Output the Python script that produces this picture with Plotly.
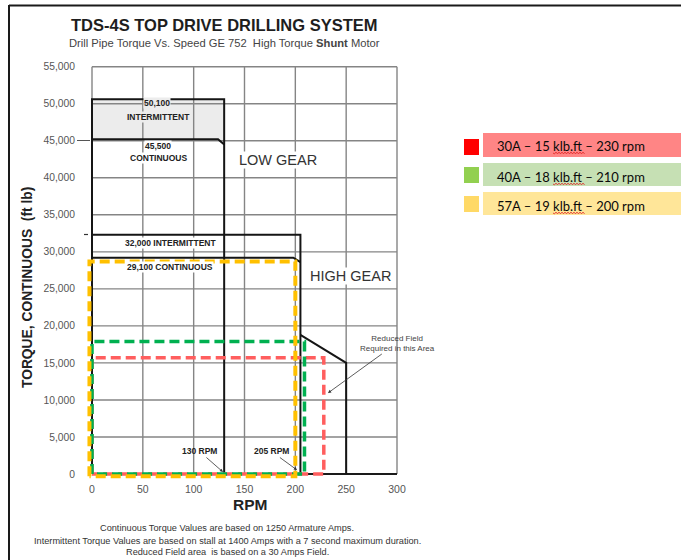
import plotly.graph_objects as go

# ---------------- data ----------------
rpm_ticks = [0, 50, 100, 150, 200, 250, 300]
torque_ticks = [0, 5000, 10000, 15000, 20000, 25000, 30000, 35000, 40000, 45000, 50000, 55000]
torque_ticktext = ["0", "5,000", "10,000", "15,000", "20,000", "25,000", "30,000",
                   "35,000", "40,000", "45,000", "50,000", "55,000"]

# low gear
low_int_rpm = [0, 0, 130, 130]
low_int_torque = [0, 50600, 50600, 0]
low_cont_rpm = [0, 124, 130]
low_cont_torque = [45200, 45200, 44500]
# high gear
high_int_rpm = [0, 205, 205]
high_int_torque = [32300, 32300, 0]
high_cont_rpm = [0, 198, 205]
high_cont_torque = [29200, 29200, 28600]
# reduced field
reduced_rpm = [205, 250, 250]
reduced_torque = [18800, 15000, 0]

# operating envelopes (dashed)
op_labels = ["30A \u2013 15 klb.ft \u2013 230 rpm",
             "40A \u2013 18 klb.ft \u2013 210 rpm",
             "57A \u2013 19 klb.ft \u2013 200 rpm"]
op_rpm_max = [228, 209, 200]
op_torque_max = [15700, 17900, 28700]
op_rpm_min = [0, 0, -2.5]
op_torque_min = [0, 0, -300]
op_line_colors = ["#FF5E5E", "#00B050", "#FFC000"]
op_square_colors = ["#FF0000", "#92D050", "#FFD966"]
op_box_colors = ["#FF8585", "#C6E0B4", "#FFE699"]

# ---------------- layout geometry (pixels) ----------------
FIG_W, FIG_H = 681, 560
L, R, T, B = 86, 400, 64, 480          # plot area edges
X0_PX, X300_PX = 92, 397               # where rpm 0 and 300 fall
Y0_PX, Y55_PX = 474, 66.7              # where torque 0 and 55000 fall
kx = (X300_PX - X0_PX) / 300.0
ky = (Y0_PX - Y55_PX) / 55000.0
x_min = -(X0_PX - L) / kx
x_max = x_min + (R - L) / kx
y_min = -(B - Y0_PX) / ky
y_max = y_min + (B - T) / ky


def px(x):
    return (x - L) / (R - L)


def py(y):
    return (B - y) / (B - T)


fig = go.Figure()

# shaded intermittent zone (low gear)
fig.add_trace(go.Scatter(
    x=[low_cont_rpm[0], low_cont_rpm[1], low_cont_rpm[2], low_int_rpm[2], low_int_rpm[1], low_cont_rpm[0]],
    y=[low_cont_torque[0], low_cont_torque[1], low_cont_torque[2], low_int_torque[2], low_int_torque[1], low_cont_torque[0]],
    fill="toself", fillcolor="#ECECEC", line=dict(width=0), mode="lines",
    hoverinfo="skip", showlegend=False))

# grid
gx, gy = [], []
for r in rpm_ticks:
    gx += [r, r, None]
    gy += [0, torque_ticks[-1], None]
for t in torque_ticks:
    gx += [0, rpm_ticks[-1], None]
    gy += [t, t, None]
fig.add_trace(go.Scatter(x=gx, y=gy, mode="lines", line=dict(color="#858585", width=1.4),
                         hoverinfo="skip", showlegend=False))

# bottom axis line
fig.add_trace(go.Scatter(x=[rpm_ticks[0], rpm_ticks[-1]], y=[0, 0], mode="lines",
                         line=dict(color="#1A1A1A", width=2), hoverinfo="skip", showlegend=False))

# black envelope curves
for xs, ys in [(low_int_rpm, low_int_torque), (low_cont_rpm, low_cont_torque),
               (high_int_rpm, high_int_torque), (high_cont_rpm, high_cont_torque),
               (reduced_rpm, reduced_torque)]:
    fig.add_trace(go.Scatter(x=xs, y=ys, mode="lines", line=dict(color="#151515", width=2),
                             hoverinfo="skip", showlegend=False))

# dashed operating rectangles
for i in range(3):
    x0, x1 = op_rpm_min[i], op_rpm_max[i]
    y0, y1 = op_torque_min[i], op_torque_max[i]
    fig.add_trace(go.Scatter(
        x=[x0, x0, x1, x1, x0], y=[y0, y1, y1, y0, y0], mode="lines",
        line=dict(color=op_line_colors[i], width=4 if i == 2 else 3.5, dash="10px,5px"),
        hoverinfo="skip", showlegend=False))

ann = []
shapes = []


def text(x, y, s, size, color="#222", bold=False, bg=None, family="Liberation Sans", xanchor="center"):
    d = dict(x=px(x), y=py(y), xref="paper", yref="paper", text=("<b>%s</b>" % s) if bold else s,
             showarrow=False, font=dict(size=size, color=color, family=family),
             xanchor=xanchor, yanchor="middle")
    if bg:
        d["bgcolor"] = bg
        d["borderpad"] = 0
    ann.append(d)


# titles
text(224, 25, "TDS-4S TOP DRIVE DRILLING SYSTEM", 16.5, "#1E1E1E", bold=True)
text(224, 43, "Drill Pipe Torque Vs. Speed GE 752  High Torque <b>Shunt</b> Motor", 11.2, "#444")
# axis titles
ann.append(dict(x=px(27), y=py(288), xref="paper", yref="paper", text="<b>TORQUE, CONTINUOUS  (ft lb)</b>",
                showarrow=False, textangle=-90, font=dict(size=13.8, color="#222", family="Liberation Sans"),
                xanchor="center", yanchor="middle"))
text(250, 505, "RPM", 15.5, "#222", bold=True)
# footnotes
text(227, 528, "Continuous Torque Values are based on 1250 Armature Amps.", 9.2, "#333")
text(227, 541, "Intermittent Torque Values are based on stall at 1400 Amps with a 7 second maximum duration.", 9.2, "#333")
text(227, 552, "Reduced Field area  is based on a 30 Amps Field.", 9.2, "#333")

# chart labels
text(157, 103, "50,100", 8.5, "#222", bold=True, bg="#ECECEC")
text(158, 117, "INTERMITTENT", 8.5, "#222", bold=True, bg="#ECECEC")
text(158, 146, "45,500", 8.5, "#222", bold=True, bg="white")
text(158, 158, "CONTINUOUS", 8.5, "#222", bold=True, bg="white")
text(170, 243, "32,000 INTERMITTENT", 8.5, "#222", bold=True, bg="white")
text(170, 267, "29,100 CONTINUOUS", 8.5, "#222", bold=True, bg="white")
text(278, 160, "LOW GEAR", 14.5, "#333", bg="white")
text(350, 276, "HIGH GEAR", 14.5, "#333", bg="white")

# arrow annotations
def arrow(hx, hy, tx, ty, s, size, bold=True, color="#222"):
    ann.append(dict(x=px(hx), y=py(hy), xref="paper", yref="paper", ax=tx - hx, ay=ty - hy,
                    text=("<b>%s</b>" % s) if bold else s, showarrow=True, arrowhead=2,
                    arrowsize=0.8, arrowwidth=0.8, arrowcolor="#333",
                    font=dict(size=size, color=color, family="Liberation Sans")))


arrow(223, 472, 199, 451, "130 RPM", 8.5)
arrow(297, 470, 271, 451, "205 RPM", 8.5)
arrow(328, 393, 397, 343, "Reduced Field<br>Required in this Area", 8, bold=False, color="#444")

# small tick marks on y axis
shapes.append(dict(type="line", xref="paper", yref="paper", x0=px(77), x1=px(90), y0=py(140.5), y1=py(140.5),
                   line=dict(color="#555", width=1)))
shapes.append(dict(type="line", xref="paper", yref="paper", x0=px(84), x1=px(88), y0=py(234.5), y1=py(234.5),
                   line=dict(color="#333", width=1.2)))

# page frame
shapes.append(dict(type="line", xref="paper", yref="paper", x0=px(9), x1=px(681), y0=py(5.5), y1=py(5.5),
                   line=dict(color="#1A1A1A", width=2)))
shapes.append(dict(type="line", xref="paper", yref="paper", x0=px(9), x1=px(9), y0=py(5), y1=py(560),
                   line=dict(color="#1A1A1A", width=2)))

# right-hand legend
row_box = [(133, 157), (163, 186), (192, 215)]
row_sq = [(139, 155), (167, 183), (196, 212)]
row_text_y = [146, 177, 206]
for i in range(3):
    shapes.append(dict(type="rect", xref="paper", yref="paper", x0=px(464), x1=px(479),
                       y0=py(row_sq[i][1]), y1=py(row_sq[i][0]), fillcolor=op_square_colors[i],
                       line=dict(width=0), layer="above"))
    shapes.append(dict(type="rect", xref="paper", yref="paper", x0=px(483), x1=px(681),
                       y0=py(row_box[i][1]), y1=py(row_box[i][0]), fillcolor=op_box_colors[i],
                       line=dict(width=0), layer="below"))
    text(495, row_text_y[i], op_labels[i], 13, "#0A0A0A", family="Lato", xanchor="left")
    # spell-check wavy underline under "klb.ft"
    wy = row_text_y[i] + 7
    xs = 553
    path = "M %f,%f" % (px(xs), py(wy))
    k = 0
    while xs < 584:
        xs += 1.5
        k += 1
        path += " L %f,%f" % (px(xs), py(wy + (0.9 if k % 2 else -0.9)))
    shapes.append(dict(type="path", xref="paper", yref="paper", path=path,
                       line=dict(color="#E02020", width=0.8)))

fig.update_layout(
    width=FIG_W, height=FIG_H,
    margin=dict(l=L, r=FIG_W - R, t=T, b=FIG_H - B, pad=0),
    paper_bgcolor="white", plot_bgcolor="white",
    font=dict(family="Liberation Sans"),
    showlegend=False,
    annotations=ann, shapes=shapes,
    xaxis=dict(range=[x_min, x_max], tickvals=rpm_ticks, showgrid=False, zeroline=False, showline=False,
               ticks="", tickfont=dict(size=10.5, color="#555"), ticklabelstandoff=1, fixedrange=True),
    yaxis=dict(range=[y_min, y_max], tickvals=torque_ticks, ticktext=torque_ticktext, showgrid=False,
               zeroline=False, showline=False, ticks="", tickfont=dict(size=10.3, color="#555"),
               ticklabelstandoff=10, fixedrange=True),
)

fig.write_html("out.html")
